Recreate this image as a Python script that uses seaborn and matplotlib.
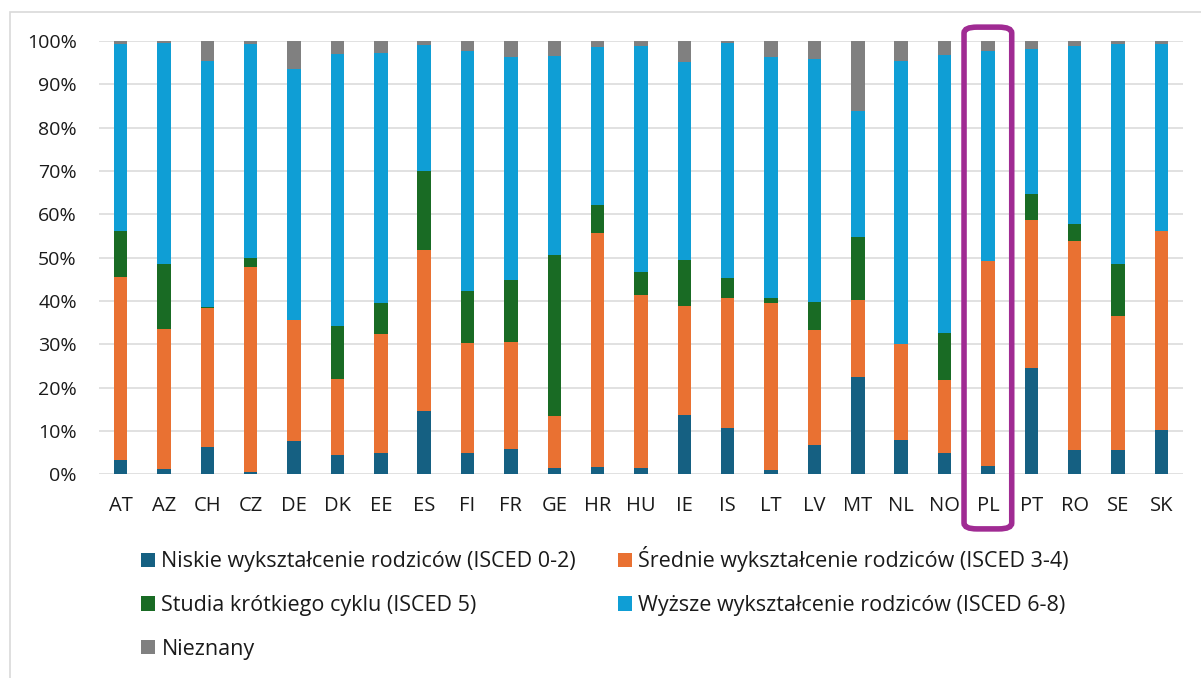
import numpy as np
import pandas as pd
import matplotlib.pyplot as plt
import seaborn as sns
from matplotlib.patches import Patch, FancyBboxPatch, Rectangle
from matplotlib.ticker import PercentFormatter

countries = ["AT", "AZ", "CH", "CZ", "DE", "DK", "EE", "ES", "FI", "FR", "GE", "HR", "HU",
             "IE", "IS", "LT", "LV", "MT", "NL", "NO", "PL", "PT", "RO", "SE", "SK"]

# shares in %
niskie   = [3.3, 1.2, 6.2, 0.6, 7.7, 4.5, 5.0, 14.5, 5.0, 5.8, 1.5, 1.8, 1.5,
            13.7, 10.8, 1.1, 6.8, 22.5, 8.0, 4.9, 2.0, 24.6, 5.5, 5.5, 10.3]
srednie  = [42.2, 32.3, 32.1, 47.3, 27.9, 17.4, 27.3, 37.2, 25.2, 24.7, 12.0, 54.0, 39.9,
            25.1, 30.0, 38.4, 26.4, 17.7, 22.1, 16.9, 47.2, 34.2, 48.4, 31.0, 45.8]
krotkie  = [10.7, 15.1, 0.2, 2.1, 0.0, 12.3, 7.3, 18.3, 12.0, 14.3, 37.0, 6.3, 5.2,
            10.7, 4.6, 1.1, 6.6, 14.6, 0.0, 10.7, 0.0, 6.0, 3.9, 12.0, 0.0]
wyzsze   = [43.2, 51.0, 56.9, 49.4, 57.9, 62.7, 57.6, 29.0, 55.4, 51.5, 46.0, 36.6, 52.2,
            45.7, 54.1, 55.7, 56.0, 29.0, 65.3, 64.3, 48.6, 33.4, 41.0, 50.7, 43.3]
nieznany = [0.6, 0.4, 4.6, 0.6, 6.5, 3.1, 2.8, 1.0, 2.4, 3.7, 3.5, 1.3, 1.2,
            4.8, 0.5, 3.7, 4.2, 16.2, 4.6, 3.2, 2.2, 1.8, 1.2, 0.8, 0.6]

labels = ["Niskie wykształcenie rodziców (ISCED 0-2)",
          "Średnie wykształcenie rodziców (ISCED 3-4)",
          "Studia krótkiego cyklu (ISCED 5)",
          "Wyższe wykształcenie rodziców (ISCED 6-8)",
          "Nieznany"]
colors = ["#156082", "#E97132", "#196B24", "#0F9ED5", "#808080"]
highlight = "PL"

sns.set_style("white")
plt.rcParams['font.family'] = ['Open Sans', 'DejaVu Sans']

df = pd.DataFrame({"kraj": countries, labels[0]: niskie, labels[1]: srednie,
                   labels[2]: krotkie, labels[3]: wyzsze, labels[4]: nieznany})
shares = df[labels].div(df[labels].sum(axis=1), axis=0)
cum = shares.cumsum(axis=1)

fig = plt.figure(figsize=(12.01, 6.78), dpi=100)
ax = fig.add_axes([99 / 1201, (678 - 474.3) / 678, (1183 - 99) / 1201, 433.3 / 678])

# draw cumulative totals from the top layer down so each layer covers the one above
for lab, col in zip(labels[::-1], colors[::-1]):
    sns.barplot(x=df["kraj"], y=cum[lab], color=col, width=0.31, ax=ax,
                saturation=1, linewidth=0, zorder=3)

ax.set_ylim(0, 1)
ax.set_xlim(-0.5, len(countries) - 0.5)
ax.set_yticks(np.arange(0, 1.01, 0.1))
ax.yaxis.set_major_formatter(PercentFormatter(1.0, decimals=0))
ax.grid(axis="y", color="#D9D9D9", linewidth=1.1, zorder=0)
ax.set_axisbelow(True)
sns.despine(ax=ax, left=True, bottom=True)
ax.set_xlabel("")
ax.set_ylabel("")
ax.tick_params(axis="both", length=0, colors="#1a1a1a")
ax.tick_params(axis="y", pad=16, labelsize=14)
ax.tick_params(axis="x", pad=23, labelsize=14.5)
for t in ax.get_xticklabels():
    t.set_verticalalignment("center")

# purple frame around the highlighted country
idx = countries.index(highlight)
trans = ax.get_xaxis_transform()
box = FancyBboxPatch((idx - 0.55, -0.126), 1.1, 1.158,
                     boxstyle="round,pad=0,rounding_size=0.3",
                     mutation_aspect=0.045,
                     transform=trans, fill=False, edgecolor="#A02B93",
                     linewidth=4, clip_on=False, zorder=5)
ax.add_patch(box)

# chart area frame
fig.patches.append(Rectangle((10 / 1201, -0.05), 1.1, (678 - 12) / 678 + 0.05,
                             transform=fig.transFigure, fill=False,
                             edgecolor="#D9D9D9", linewidth=1.2))

order = [0, 2, 4, 1, 3]
handles = [Patch(facecolor=colors[i], edgecolor="none") for i in order]
fig.legend(handles, [labels[i] for i in order], ncol=2, frameon=False,
           loc="upper left", bbox_to_anchor=(122 / 1201, (678 - 527) / 678),
           fontsize=15.5, handlelength=0.65, handleheight=0.65, handletextpad=0.28,
           labelspacing=1.05, columnspacing=1.95, labelcolor="#1a1a1a")

fig.savefig("out.png", dpi=100)
